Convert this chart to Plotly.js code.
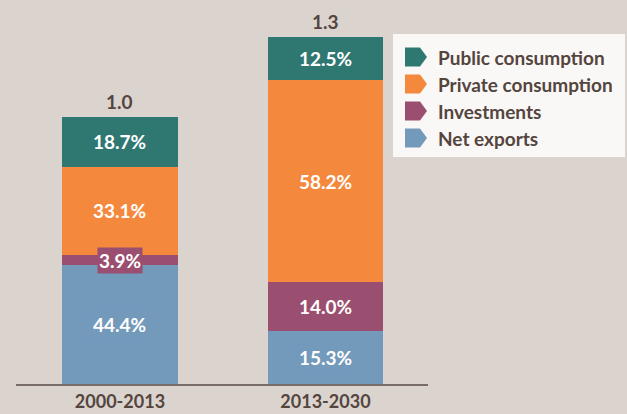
<!DOCTYPE html>
<html>
<head>
<meta charset="utf-8">
<script src="https://cdn.plot.ly/plotly-3.0.1.min.js"></script>
<style>html,body{margin:0;padding:0;background:#dbd4ce;}#chart{width:627px;height:414px;}</style>
</head>
<body>
<div id="chart"></div>
<script>
// ---- data ----
const categories = ['2000-2013', '2013-2030'];
const totals = [1.0, 1.3];
const totalLabels = ['1.0', '1.3'];
// stacked bottom to top
const seriesNames = ['Net exports', 'Investments', 'Private consumption', 'Public consumption'];
const netExports = [44.4, 15.3];
const investments = [3.9, 14.0];
const privateConsumption = [33.1, 58.2];
const publicConsumption = [18.7, 12.5];

const seriesShares = [netExports, investments, privateConsumption, publicConsumption];
const seriesColors = ['#7399bb', '#9a4f70', '#f4883c', '#2f7872'];

const FONT = 'Lato, "Open Sans", sans-serif';
const DARK = '#54453e';
const FS = 19;

// layout geometry (pixels)
const W = 627, H = 414;
const mL = 16, mR = 199, mT = 0, mB = 30;
const plotW = W - mL - mR, plotH = H - mT - mB;
const px = x => (x - mL) / plotW;
const py = y => (H - mB - y) / plotH;

const traces = seriesNames.map((name, i) => ({
  type: 'bar',
  name: name,
  x: categories,
  y: seriesShares[i].map((s, j) => s / 100 * totals[j]),
  marker: {color: seriesColors[i], line: {width: 0}},
  width: 0.564,
  hoverinfo: 'skip',
  showlegend: false
}));

const annotations = [];
// segment labels
categories.forEach((c, j) => {
  let base = 0;
  seriesShares.forEach((arr, i) => {
    const h = arr[j] / 100 * totals[j];
    annotations.push({
      x: c, y: base + h / 2, xref: 'x', yref: 'y',
      text: arr[j].toFixed(1) + '%', showarrow: false,
      font: {family: FONT, size: FS, color: '#ffffff', weight: 700},
      bgcolor: seriesColors[i], borderpad: 1
    });
    base += h;
  });
  annotations.push({
    x: c, y: totals[j], xref: 'x', yref: 'y', yanchor: 'bottom', yshift: 2,
    text: totalLabels[j], showarrow: false,
    font: {family: FONT, size: FS, color: DARK, weight: 700}
  });
});

// custom legend
const shapes = [{
  type: 'rect', xref: 'paper', yref: 'paper',
  x0: px(393), x1: px(625), y0: py(157), y1: py(34),
  fillcolor: '#faf8f6', line: {width: 0}, layer: 'above'
}];
const legendOrder = [3, 2, 1, 0];
legendOrder.forEach((si, k) => {
  const cy = 57 + k * 27;
  const x0 = 405, x1 = 420, x2 = 427, t = cy - 9.5, b = cy + 9.5;
  const path = `M${px(x0)},${py(t)} L${px(x1)},${py(t)} L${px(x2)},${py(cy)} L${px(x1)},${py(b)} L${px(x0)},${py(b)} Z`;
  shapes.push({type: 'path', xref: 'paper', yref: 'paper', path: path,
    fillcolor: seriesColors[si], line: {width: 0}, layer: 'above'});
  annotations.push({
    x: px(436), y: py(cy), xref: 'paper', yref: 'paper', xanchor: 'left', yanchor: 'middle',
    text: seriesNames[si], showarrow: false,
    font: {family: FONT, size: FS, color: DARK, weight: 700}
  });
});

const layout = {
  width: W, height: H,
  margin: {l: mL, r: mR, t: mT, b: mB, pad: 0},
  paper_bgcolor: '#dbd4ce', plot_bgcolor: '#dbd4ce',
  barmode: 'stack',
  showlegend: false,
  xaxis: {
    range: [-0.506, 1.499], showgrid: false, zeroline: false,
    showline: true, linecolor: '#7a6c66', linewidth: 2, ticks: '',
    tickfont: {family: FONT, size: 18, color: DARK, weight: 700},
    ticklabelstandoff: 0,
    fixedrange: true
  },
  yaxis: {
    range: [0, 1.438], showgrid: false, zeroline: false, showline: false,
    showticklabels: false, ticks: '', fixedrange: true
  },
  annotations: annotations,
  shapes: shapes
};

Plotly.newPlot('chart', traces, layout, {displayModeBar: false, staticPlot: true});
</script>
</body>
</html>
